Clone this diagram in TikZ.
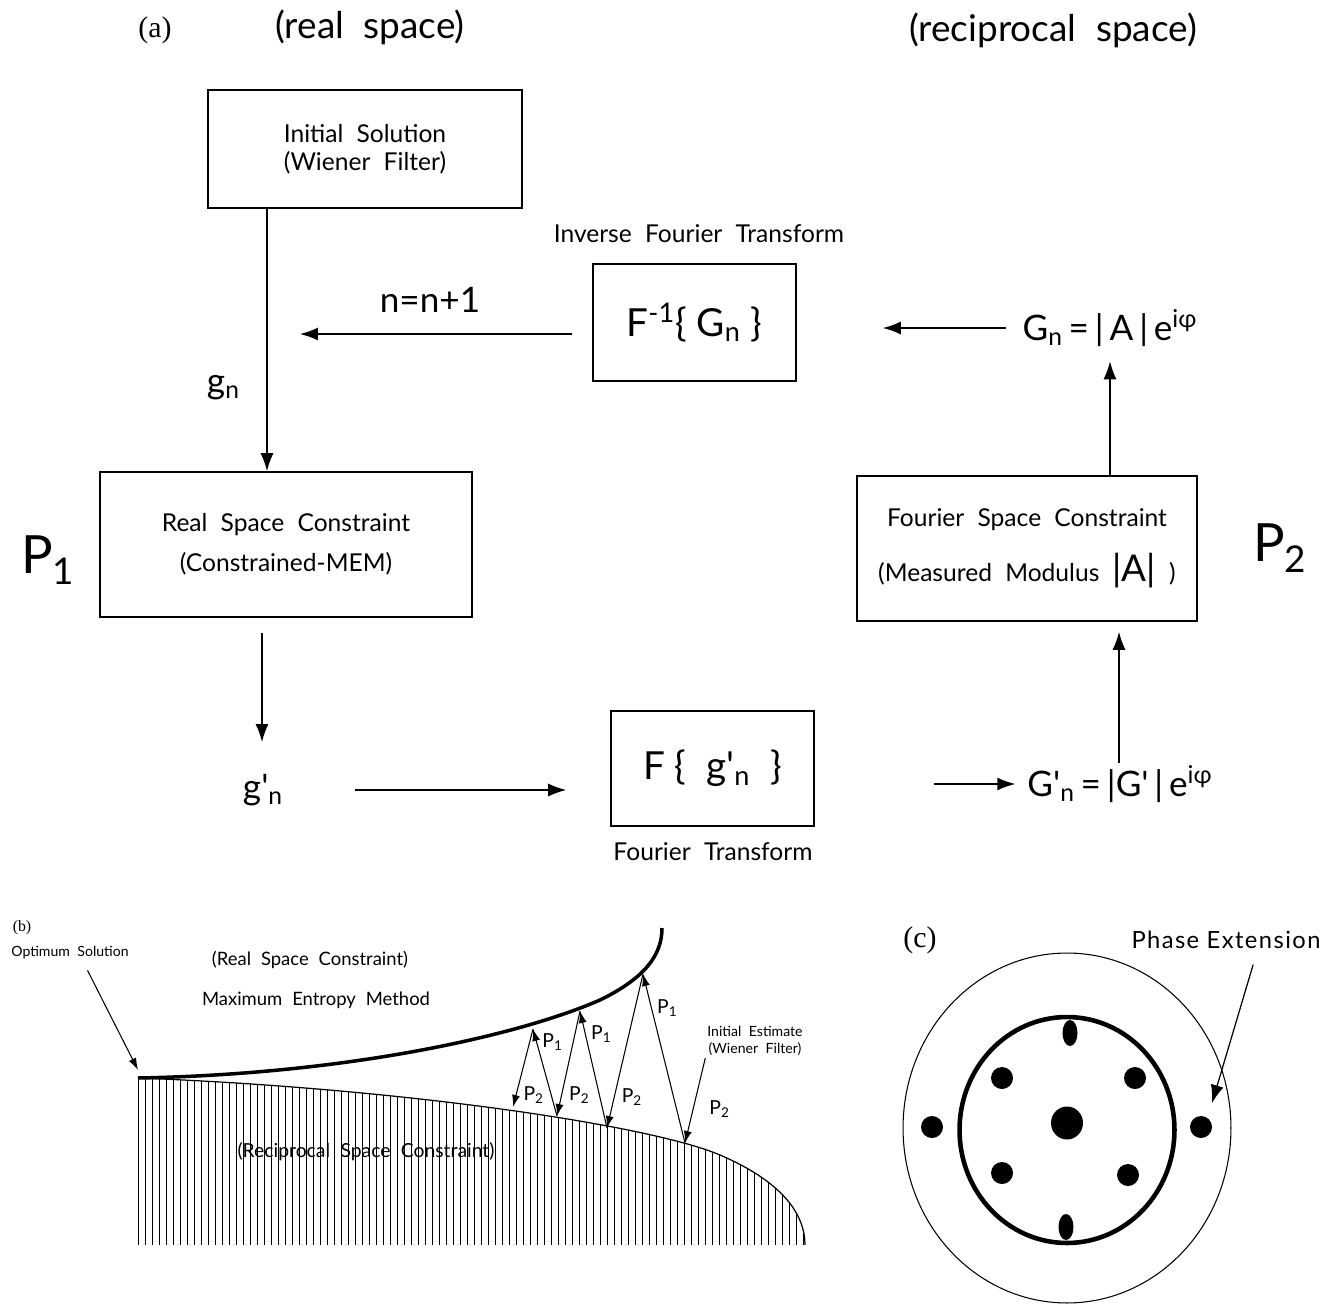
\documentclass[tikz,border=0pt]{standalone}
\usepackage{fontspec}
\setmainfont{Liberation Serif}
\setsansfont{Lato}
\newfontfamily\widesf{Lato}[WordSpace=2.1]
\newfontfamily\trackedsf{Lato}[LetterSpace=6]
\usetikzlibrary{positioning}
\usetikzlibrary{arrows.meta}
\usetikzlibrary{calc}

\newcommand\prm{\textquotesingle}

\tikzset{
  box/.style={draw, line width=0.9pt, align=center, inner sep=0pt},
  boxlbl/.style={font=\widesf\fontsize{14}{16}\selectfont, align=center},
  biglbl/.style={font=\sffamily\fontsize{20}{24}\selectfont, inner sep=1pt},
  hugelbl/.style={font=\sffamily\fontsize{22}{26}\selectfont, inner sep=1pt},
  eqlbl/.style={font=\sffamily\fontsize{20}{24}\selectfont, inner sep=1pt},
  plbl/.style={font=\sffamily\fontsize{30}{34}\selectfont, inner sep=1pt},
  headlbl/.style={font=\widesf\fontsize{21}{24}\selectfont},
  taglbl/.style={font=\rmfamily\fontsize{17}{19}\selectfont},
  smalllbl/.style={font=\widesf\fontsize{8}{10}\selectfont, align=center, inner sep=1pt},
  midlbl/.style={font=\widesf\fontsize{10.5}{12}\selectfont, inner sep=1pt},
  projlbl/.style={font=\sffamily\fontsize{11}{12}\selectfont, inner sep=1pt},
  flow/.style={-{Latex[length=3.6mm,width=2.6mm]}, line width=0.9pt},
  zig/.style={-{Latex[length=2.4mm,width=1.6mm]}, line width=0.6pt},
}

\begin{document}
\begin{tikzpicture}[x=0.02cm, y=-0.02cm]
  \useasboundingbox (0,0) rectangle (1329,1305);

  % (a) iteration loop
  \node[taglbl] (taga) at (155,30) {(a)};
  \node[headlbl] (hreal) at (370,27) {(real space)};
  \node[headlbl] (hrec) at (1053,30) {(reciprocal space)};

  \node[box, boxlbl, minimum width=6.28cm, minimum height=2.36cm] (init) at (365,149) {Initial Solution\\(Wiener Filter)};
  \node[boxlbl] (invlbl) at (699,234) {Inverse Fourier Transform};
  \node[box, hugelbl, minimum width=4.06cm, minimum height=2.34cm] (invft) at (694.5,322.5) {F\textsuperscript{-1}\{ G\textsubscript{n} \}};
  \node[box, boxlbl, minimum width=7.44cm, minimum height=2.9cm] (realc) at (286,544.5) {Real Space Constraint\\[7pt](Constrained-MEM)};
  \node[box, boxlbl, minimum width=6.8cm, minimum height=2.9cm] (fourc) at (1027,548.5) {Fourier Space Constraint\\[12pt](Measured Modulus {\fontsize{21}{21}\selectfont|A|} )};
  \node[box, hugelbl, minimum width=4.06cm, minimum height=2.3cm] (ft) at (712.5,768.5) {F \{ \ g\prm\textsubscript{n} \ \}};
  \node[boxlbl] (ftlbl) at (713,852) {Fourier Transform};

  \node[plbl] (p1) at (48,560) {P\textsubscript{1}};
  \node[plbl] (p2) at (1280,548) {P\textsubscript{2}};

  \node[eqlbl] (Ga) at (1110,328) {G\textsubscript{n}\,=\,|\,A\,|\,e\textsuperscript{iφ}};
  \node[eqlbl] (Gb) at (1120,784) {G\prm\textsubscript{n}\,=\,|G\prm\,|\,e\textsuperscript{iφ}};
  \node[biglbl] (gpn) at (263,790) {g\prm\textsubscript{n}};
  \node[biglbl] (nn) at (430,300) {n=n+1};

  \coordinate (cx1) at (267,0);
  \coordinate (cx2) at (262,0);
  \coordinate (cx4) at (1110,0);
  \coordinate (cx5) at (1119,0);
  \coordinate (loopin) at (300,334);

  \draw[flow] (init.south -| cx1) -- (realc.north -| cx1) node[pos=0.68, left=14pt, biglbl] (gn) {g\textsubscript{n}};
  \draw[flow, shorten <=0.4cm] (invft.west |- loopin) -- (loopin);
  \draw[flow, shorten <=0.3cm, shorten >=1.72cm] (Ga.west) -- (invft.east |- Ga.west);
  \draw[flow, shorten >=0.25cm] (fourc.north -| cx4) -- (Ga.south -| cx4);
  \draw[flow, shorten <=0.3cm, shorten >=0.6cm] (realc.south -| cx2) -- (gpn.north -| cx2);
  \draw[flow, shorten <=1.4cm, shorten >=0.88cm] (gpn.east) -- (ft.west |- gpn.east);
  \draw[flow, shorten <=2.38cm, shorten >=0.2cm] (ft.east |- Gb.west) -- (Gb.west);
  \draw[flow, shorten >=0.2cm] (Gb.north -| cx5) -- (fourc.south -| cx5);

  % (b) alternating projections
  \node[font=\rmfamily\fontsize{9}{10}\selectfont] (tagb) at (22,928) {(b)};
  \node[smalllbl] (opt) at (70,953) {Optimum Solution};
  \node[midlbl] (rsc) at (310,960) {(Real Space Constraint)};
  \node[midlbl] (mem) at (316,1000) {Maximum Entropy Method};
  \node[smalllbl] (iest) at (755,1041) {Initial Estimate\\(Wiener Filter)};

  \begin{scope}
    \clip (138,1078) .. controls (400,1088) and (650,1125) .. (720,1155) .. controls (790,1185) and (805,1220) .. (805,1245) -- (138,1245) -- cycle;
    \foreach \x in {138,145,...,806}
      \draw[line width=0.5pt] (\x,1070) -- (\x,1245);
  \end{scope}
  \draw[line width=0.7pt] (138,1078) .. controls (400,1088) and (650,1125) .. (720,1155) .. controls (790,1185) and (805,1220) .. (805,1245);
  \draw[line width=2pt] (138,1078) .. controls (350,1074) and (520,1035) .. (600,1000) .. controls (645,978) and (662,955) .. (662,928);
  \node[font=\widesf\fontsize{11}{12}\selectfont, inner sep=1pt] (rec) at (366,1152) {(Reciprocal Space Constraint)};

  \coordinate (optend) at (138,1070);
  \coordinate (l1) at (513,1107);
  \coordinate (l2) at (557,1116);
  \coordinate (l3) at (607,1128);
  \coordinate (l4) at (685,1143);
  \coordinate (u1) at (533,1029);
  \coordinate (u2) at (580,1011);
  \coordinate (u3) at (643,974);

  \draw[zig, shorten <=0.2cm] ([xshift=0.26cm]opt.south) -- (optend);
  \draw[zig] (iest.south west) -- (l4) node[pos=0.6, right=8pt, projlbl] {P\textsubscript{2}};
  \draw[zig] (l4) -- (u3) node[pos=0.8, right=2pt, projlbl] {P\textsubscript{1}};
  \draw[zig] (u3) -- (l3) node[pos=0.8, right=3pt, projlbl] {P\textsubscript{2}};
  \draw[zig] (l3) -- (u2) node[pos=0.8, right=2pt, projlbl] {P\textsubscript{1}};
  \draw[zig] (u2) -- (l2) node[pos=0.8, right=3pt, projlbl] {P\textsubscript{2}};
  \draw[zig] (l2) -- (u1) node[pos=0.85, right=2pt, projlbl] {P\textsubscript{1}};
  \draw[zig] (u1) -- (l1) node[pos=0.85, right=3pt, projlbl] {P\textsubscript{2}};

  % (c) phase extension
  \node[taglbl] (tagc) at (920,940) {(c)};
  \node[font=\trackedsf\fontsize{13.5}{14}\selectfont] (pe) at (1226,940) {Phase Extension};
  \coordinate (petip) at (1212,1103);
  \draw[flow, line width=0.7pt, shorten <=0.2cm] ([xshift=0.6cm]pe.south) -- (petip);

  \draw[line width=0.6pt] (1067,1128) ellipse [x radius=3.28cm, y radius=3.5cm];
  \draw[line width=2.6pt] (1067,1130) ellipse [x radius=2.15cm, y radius=2.26cm];
  \fill (1067,1123) ellipse [x radius=0.32cm, y radius=0.33cm];
  \foreach \p in {(1002,1078),(1135,1078),(1002,1173),(1128,1175),(932,1127),(1201,1127)}
    \fill \p circle (0.22cm);
  \fill (1070,1033) ellipse [x radius=0.15cm, y radius=0.26cm];
  \fill (1066,1227) ellipse [x radius=0.15cm, y radius=0.26cm];
\end{tikzpicture}
\end{document}
